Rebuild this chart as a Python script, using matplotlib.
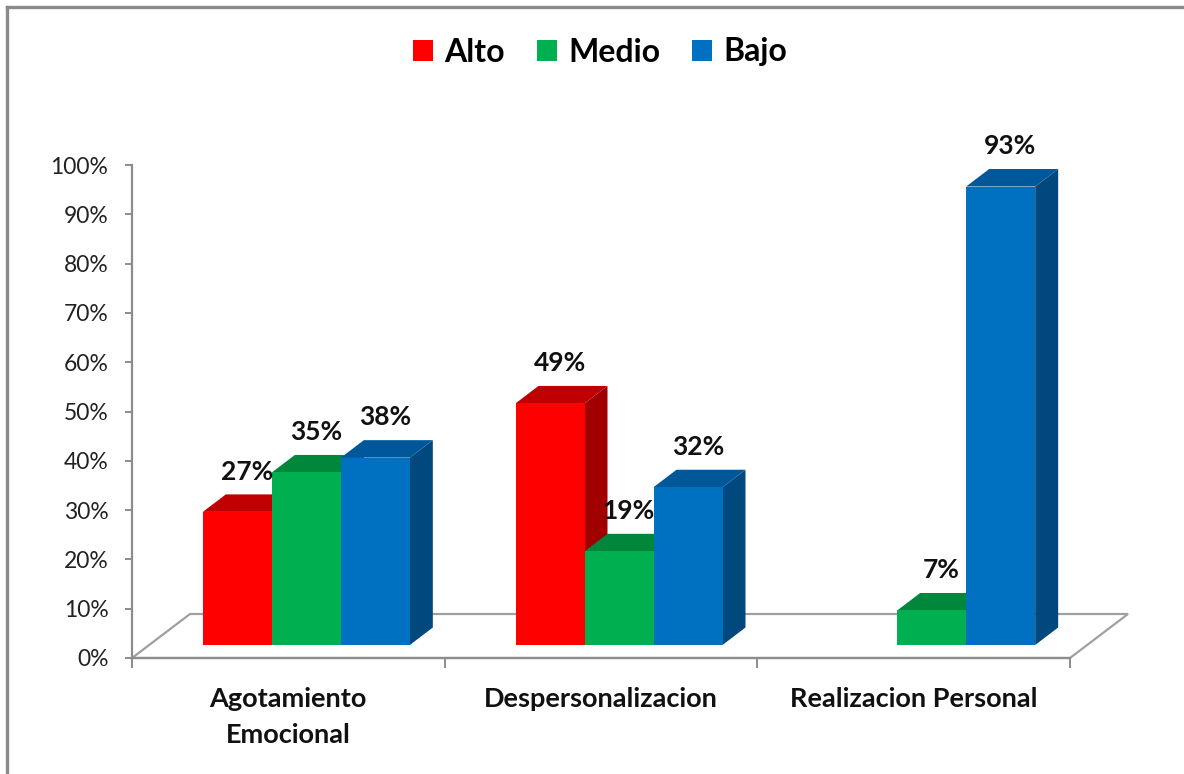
import matplotlib
matplotlib.use("Agg")
import matplotlib.pyplot as plt
from matplotlib.patches import Polygon
from matplotlib.lines import Line2D

# ---------------- data ----------------
categories = ["Agotamiento\nEmocional", "Despersonalizacion", "Realizacion Personal"]
series = ["Alto", "Medio", "Bajo"]
alto = [27, 49, 0]
medio = [35, 19, 7]
bajo = [38, 32, 93]
y_ticks = [0, 10, 20, 30, 40, 50, 60, 70, 80, 90, 100]
y_tick_labels = [f"{t}%" for t in y_ticks]

front_colors = ["#FF0000", "#00B050", "#0070C0"]
top_colors = ["#C00000", "#00873C", "#00589B"]
side_colors = ["#A00000", "#00783A", "#00487E"]

plt.rcParams["font.family"] = ["Lato", "DejaVu Sans"]

W, H = 1184, 774
fig = plt.figure(figsize=(W / 100, H / 100), dpi=100)
fig.patch.set_facecolor("white")
ax = fig.add_axes([132 / W, 116 / H, 938 / W, 493 / H])
ax.set_xlim(0, 3)
ax.set_ylim(0, 100)

px_x = 3 / 938.0      # data units per pixel (x)
px_y = 100 / 493.0    # data units per pixel (y)

# 3D geometry (in data units)
floor_dx, floor_dy = 58 * px_x, 44 * px_y
plane_dx, plane_dy = 18 * px_x, 13 * px_y
bar_w = 69 * px_x
bar_dx, bar_dy = 23 * px_x, 17.5 * px_y

grey = "#8C8C8C"

# floor
floor = Polygon([(0, 0), (3, 0), (3 + floor_dx, floor_dy), (floor_dx, floor_dy)],
                closed=True, fill=False, edgecolor="#A0A0A0", lw=1.6,
                clip_on=False, zorder=1)
ax.add_patch(floor)

values = [alto, medio, bajo]
z = 5
for ci in range(len(categories)):
    center = ci + 0.5 + plane_dx
    for si in range(len(series)):
        v = values[si][ci]
        if v <= 0:
            continue
        x = center + (si - 1.5) * bar_w
        y0 = plane_dy
        side = Polygon([(x + bar_w, y0), (x + bar_w + bar_dx, y0 + bar_dy),
                        (x + bar_w + bar_dx, y0 + v + bar_dy), (x + bar_w, y0 + v)],
                       closed=True, facecolor=side_colors[si], edgecolor="none",
                       clip_on=False, zorder=z)
        ax.add_patch(side)
        top = Polygon([(x, y0 + v), (x + bar_w, y0 + v),
                       (x + bar_w + bar_dx, y0 + v + bar_dy), (x + bar_dx, y0 + v + bar_dy)],
                      closed=True, facecolor=top_colors[si], edgecolor="none",
                      clip_on=False, zorder=z + 1)
        ax.add_patch(top)
        ax.bar(x, v, width=bar_w, bottom=y0, align="edge", color=front_colors[si],
               edgecolor="none", clip_on=False, zorder=z + 2)
        ax.annotate(f"{v}%", xy=(x + bar_w / 2, y0 + v), xytext=(7, 29),
                    textcoords="offset points", ha="center", va="center",
                    fontsize=19, fontweight="bold", color="#111111",
                    zorder=50, annotation_clip=False)
        z += 3

# axes styling
for s in ["top", "right"]:
    ax.spines[s].set_visible(False)
for s in ["left", "bottom"]:
    ax.spines[s].set_color(grey)
    ax.spines[s].set_linewidth(1.6)
ax.set_yticks(y_ticks)
ax.set_yticklabels(y_tick_labels, fontsize=16.5, color="#222222")
ax.tick_params(axis="y", length=5, width=1.4, color=grey, pad=12)
ax.set_xticks([0, 1, 2, 3])
ax.set_xticklabels([])
ax.tick_params(axis="x", which="major", length=7.5, width=1.4, color=grey)
ax.set_xticks([0.5, 1.5, 2.5], minor=True)
ax.set_xticklabels(categories, minor=True, fontsize=19.5, fontweight="bold",
                   color="#111111", linespacing=1.6)
ax.tick_params(axis="x", which="minor", length=0, pad=21)

# legend
handles = [plt.Rectangle((0, 0), 1, 1, facecolor=c, edgecolor="none") for c in front_colors]
fig.legend(handles, series, loc="center", bbox_to_anchor=(600 / W, 1 - 52 / H),
           ncol=3, frameon=False, prop={"size": 23, "weight": "bold"},
           handlelength=0.63, handleheight=0.63, handletextpad=0.35,
           columnspacing=1.0)

# outer border (left & top)
fig.add_artist(Line2D([6.5 / W, 6.5 / W], [0, 1 - 6.5 / H], transform=fig.transFigure,
                      color="#8A8A8A", lw=2.4))
fig.add_artist(Line2D([6.5 / W, 1], [1 - 6.5 / H, 1 - 6.5 / H], transform=fig.transFigure,
                      color="#8A8A8A", lw=2.4))

fig.savefig("out.png", dpi=100)
